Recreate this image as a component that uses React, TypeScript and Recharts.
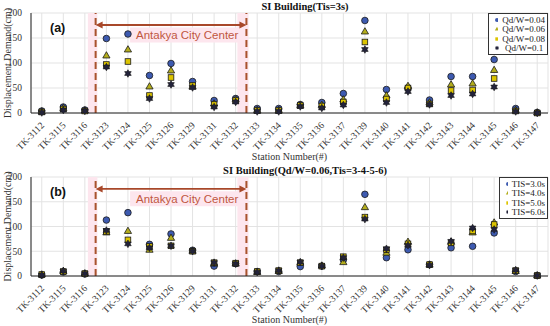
import { CartesianGrid, ReferenceArea, ReferenceLine, Scatter, ScatterChart, XAxis, YAxis, Label } from 'recharts';

const stations = [
  'TK-3112', 'TK-3115', 'TK-3116', 'TK-3123', 'TK-3124', 'TK-3125', 'TK-3126', 'TK-3129',
  'TK-3131', 'TK-3132', 'TK-3133', 'TK-3134', 'TK-3135', 'TK-3136', 'TK-3137', 'TK-3139',
  'TK-3140', 'TK-3141', 'TK-3142', 'TK-3143', 'TK-3144', 'TK-3145', 'TK-3146', 'TK-3147',
];
const yTicks = [0, 50, 100, 150, 200];

// panel (a): Tis = 3s, varying Qd/W
const qd004 = [4, 12, 6, 149, 158, 75, 99, 63, 25, 29, 9, 9, 17, 21, 39, 185, 47, 50, 26, 73, 73, 107, 9, 1];
const qd006 = [3, 10, 5, 115, 127, 53, 85, 53, 19, 27, 6, 6, 16, 16, 27, 163, 35, 54, 21, 57, 59, 86, 6, 1];
const qd008 = [2, 8, 4, 97, 103, 35, 71, 55, 17, 25, 5, 5, 15, 14, 22, 142, 28, 50, 18, 45, 46, 69, 4, 0];
const qd010 = [1, 6, 4, 92, 79, 29, 57, 51, 12, 22, 3, 3, 13, 10, 16, 127, 21, 43, 17, 35, 38, 52, 3, 0];

// panel (b): Qd/W = 0.06, varying Tis
const tis3 = [2, 8, 4, 113, 128, 64, 85, 52, 20, 25, 9, 9, 19, 20, 33, 165, 37, 53, 23, 57, 60, 87, 9, 1];
const tis4 = [3, 10, 5, 88, 91, 53, 77, 51, 25, 25, 8, 10, 27, 21, 28, 139, 47, 69, 23, 69, 88, 108, 10, 1];
const tis5 = [3, 9, 5, 90, 73, 60, 61, 50, 27, 26, 9, 11, 27, 20, 39, 119, 53, 65, 23, 67, 91, 104, 11, 1];
const tis6 = [2, 10, 5, 92, 65, 57, 61, 50, 27, 25, 8, 11, 28, 20, 37, 115, 55, 62, 22, 70, 97, 94, 12, 1];

const serif = '"Liberation Serif", "Times New Roman", serif';
const sans = '"Liberation Sans", Arial, sans-serif';
const idx = stations.map((_, i) => i);
const toPoints = (vals: number[]) => vals.map((y, x) => ({ x, y }));

type Kind = 'circle' | 'triangle' | 'square' | 'hexagram';

function Marker({ kind, cx, cy, s = 1, edge = true }: { kind: Kind; cx: number; cy: number; s?: number; edge?: boolean }) {
  const stroke = edge ? '#1a1a1a' : 'none';
  if (kind === 'circle') return <circle cx={cx} cy={cy} r={3.3 * s} fill="#3d5ab0" stroke={stroke} strokeWidth={0.8} />;
  if (kind === 'triangle') {
    const r = 3.8 * s;
    const pts = `${cx},${cy - r} ${cx + r * 0.95},${cy + r * 0.65} ${cx - r * 0.95},${cy + r * 0.65}`;
    return <polygon points={pts} fill="#b3ad1c" stroke={stroke} strokeWidth={0.8} />;
  }
  if (kind === 'square') {
    const h = 2.8 * s;
    return <rect x={cx - h} y={cy - h} width={h * 2} height={h * 2} fill="#dcc400" stroke={stroke} strokeWidth={0.8} />;
  }
  const ro = 3.8 * s;
  const ri = ro / Math.sqrt(3);
  const pts: string[] = [];
  for (let k = 0; k < 12; k++) {
    const a = (-90 + k * 30) * (Math.PI / 180);
    const r = k % 2 === 0 ? ro : ri;
    pts.push(`${cx + r * Math.cos(a)},${cy + r * Math.sin(a)}`);
  }
  return <polygon points={pts.join(' ')} fill="#23233a" stroke={stroke} strokeWidth={0.6} />;
}

const shapeOf = (kind: Kind) => (p: any) => <Marker kind={kind} cx={p.cx} cy={p.cy} />;

function StationTick(props: any) {
  const { x, y, payload } = props;
  return (
    <text
      x={0}
      y={0}
      transform={`translate(${x + 3},${y + 5}) rotate(-45)`}
      textAnchor="end"
      fontSize={9.5}
      fontFamily={serif}
      fill="#333"
    >
      {stations[payload.value]}
    </text>
  );
}

function Arrow(props: any) {
  const { x1, y1, x2, y2 } = props;
  const c = '#a8482a';
  return (
    <g>
      <line x1={x1 + 4} y1={y1} x2={x2 - 4} y2={y2} stroke={c} strokeWidth={1.8} />
      <polygon points={`${x1},${y1} ${x1 + 7},${y1 - 3.5} ${x1 + 7},${y1 + 3.5}`} fill={c} />
      <polygon points={`${x2},${y2} ${x2 - 7},${y2 - 3.5} ${x2 - 7},${y2 + 3.5}`} fill={c} />
    </g>
  );
}

interface PanelProps {
  title: string;
  tag: string;
  series: { name: string; kind: Kind; values: number[] }[];
  top: number;
  legendLeft: number;
}

function Panel({ title, tag, series, top, legendLeft }: PanelProps) {
  const pink = '#fde6ee';
  return (
    <div style={{ position: 'relative', width: 550, height: 163 }}>
      <ScatterChart width={550} height={163} margin={{ top, right: 2, bottom: 0, left: 0 }}>
        <CartesianGrid stroke="#e3e3e3" />
        <XAxis
          xAxisId={0}
          type="number"
          dataKey="x"
          domain={[-0.5, 23.5]}
          ticks={idx}
          interval={0}
          height={50}
          tick={<StationTick />}
          tickLine={false}
          axisLine={{ stroke: '#222' }}
        >
          <Label value="Station Number(#)" position="insideBottom" offset={3} fontSize={10} fontFamily={serif} fill="#333" />
        </XAxis>
        <XAxis
          xAxisId="t"
          orientation="top"
          type="number"
          domain={[-0.5, 23.5]}
          ticks={idx}
          interval={0}
          height={0}
          mirror
          tickSize={3}
          tick={() => <g />}
          tickLine={{ stroke: '#222' }}
          axisLine={{ stroke: '#222' }}
        />
        <YAxis
          yAxisId={0}
          type="number"
          dataKey="y"
          domain={[0, 200]}
          ticks={yTicks}
          width={31}
          tickLine={false}
          tickMargin={3}
          tick={{ fontSize: 9.5, fontFamily: serif, fill: '#333' }}
          axisLine={{ stroke: '#222' }}
        >
          <Label value="Displacement Demand(cm)" angle={-90} position="insideLeft" offset={7} fontSize={10} fontFamily={serif} fill="#333" style={{ textAnchor: 'middle' }} />
        </YAxis>
        <YAxis yAxisId="r" orientation="right" domain={[0, 200]} width={0} tick={false} tickLine={false} axisLine={{ stroke: '#222' }} />
        <ReferenceArea x1={2.14} x2={2.58} y1={0} y2={200} fill={pink} fillOpacity={1} stroke="none" />
        <ReferenceArea x1={9.08} x2={9.6} y1={0} y2={200} fill={pink} fillOpacity={1} stroke="none" />
        <ReferenceArea x1={4.1} x2={9.4} y1={141} y2={171} fill={pink} fillOpacity={1} stroke="none">
          <Label value="Antakya City Center" position="center" fontSize={11.5} fontFamily={sans} fill="#c0573f" />
        </ReferenceArea>
        <ReferenceLine x={2.5} stroke="#a8532d" strokeWidth={2} strokeDasharray="7 4" />
        <ReferenceLine x={9.5} stroke="#a8532d" strokeWidth={2} strokeDasharray="7 4" />
        <ReferenceLine segment={[{ x: 2.5, y: 176 }, { x: 9.5, y: 176 }]} shape={<Arrow />} />
        {series.map((s) => (
          <Scatter key={s.name} name={s.name} data={toPoints(s.values)} shape={shapeOf(s.kind)} isAnimationActive={false} />
        ))}
      </ScatterChart>
      <div
        style={{
          position: 'absolute',
          left: 0,
          width: 580,
          top: top - 13,
          textAlign: 'center',
          fontFamily: serif,
          fontWeight: 'bold',
          fontSize: 10.5,
          lineHeight: '13px',
          color: '#111',
        }}
      >
        <span style={{ display: 'inline-block', width: 550, paddingLeft: 30 }}>{title}</span>
      </div>
      <div style={{ position: 'absolute', left: 50, top: top + 8, fontFamily: sans, fontWeight: 'bold', fontSize: 12.5, color: '#111' }}>
        {tag}
      </div>
      <div
        style={{
          position: 'absolute',
          left: legendLeft,
          right: 2,
          top,
          border: '1px solid #333',
          background: '#fff',
          padding: '1px 2px 1px 4px',
        }}
      >
        {series.map((s) => (
          <div key={s.name} style={{ display: 'flex', alignItems: 'center', height: 9.5, fontFamily: serif, fontSize: 9, color: '#222' }}>
            <svg width={8} height={8} style={{ marginRight: 4 }}>
              <Marker kind={s.kind} cx={4} cy={4} s={0.6} edge={false} />
            </svg>
            <span>{s.name}</span>
          </div>
        ))}
      </div>
    </div>
  );
}

export default function App() {
  return (
    <div style={{ position: 'absolute', left: 0, top: 0, width: 550, height: 326, background: '#fff' }}>
      <Panel
        title="SI Building(Tis=3s)"
        tag="(a)"
        top={13}
        legendLeft={488}
        series={[
          { name: 'Qd/W=0.04', kind: 'circle', values: qd004 },
          { name: 'Qd/W=0.06', kind: 'triangle', values: qd006 },
          { name: 'Qd/W=0.08', kind: 'square', values: qd008 },
          { name: 'Qd/W=0.1', kind: 'hexagram', values: qd010 },
        ]}
      />
      <Panel
        title="SI Building(Qd/W=0.06,Tis=3-4-5-6)"
        tag="(b)"
        top={14}
        legendLeft={499}
        series={[
          { name: 'TIS=3.0s', kind: 'circle', values: tis3 },
          { name: 'TIS=4.0s', kind: 'triangle', values: tis4 },
          { name: 'TIS=5.0s', kind: 'square', values: tis5 },
          { name: 'TIS=6.0s', kind: 'hexagram', values: tis6 },
        ]}
      />
    </div>
  );
}
